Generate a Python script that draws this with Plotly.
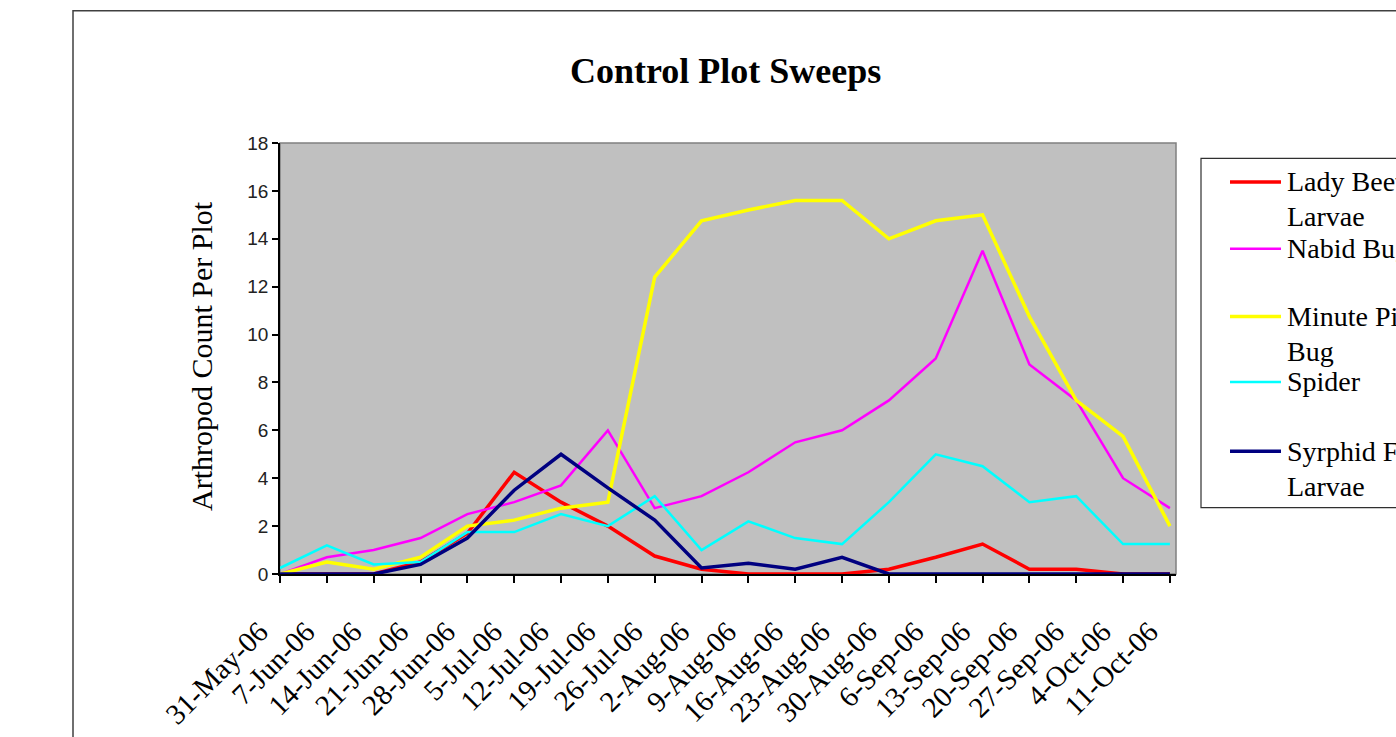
import plotly.graph_objects as go

# Sampling dates (weekly sweeps)
dates = ["31-May-06", "7-Jun-06", "14-Jun-06", "21-Jun-06", "28-Jun-06",
         "5-Jul-06", "12-Jul-06", "19-Jul-06", "26-Jul-06", "2-Aug-06",
         "9-Aug-06", "16-Aug-06", "23-Aug-06", "30-Aug-06", "6-Sep-06",
         "13-Sep-06", "20-Sep-06", "27-Sep-06", "4-Oct-06", "11-Oct-06"]

# Mean arthropod counts per plot
lady_beetle_larvae = [0, 0, 0, 0.5, 1.7, 4.25, 3.0, 2.0, 0.75, 0.2,
                      0, 0, 0, 0.2, 0.7, 1.25, 0.2, 0.2, 0, 0]
nabid_bugs = [0, 0.7, 1.0, 1.5, 2.5, 3.0, 3.7, 6.0, 2.75, 3.25,
              4.25, 5.5, 6.0, 7.25, 9.0, 13.5, 8.75, 7.25, 4.0, 2.75]
minute_pirate_bug = [0, 0.5, 0.2, 0.7, 2.0, 2.25, 2.75, 3.0, 12.4, 14.75,
                     15.2, 15.6, 15.6, 14.0, 14.75, 15.0, 10.75, 7.25, 5.75, 2.0]
spider = [0.25, 1.2, 0.4, 0.5, 1.75, 1.75, 2.5, 2.0, 3.25, 1.0,
          2.2, 1.5, 1.25, 3.0, 5.0, 4.5, 3.0, 3.25, 1.25, 1.25]
syrphid_fly_larvae = [0, 0, 0, 0.4, 1.5, 3.5, 5.0, 3.6, 2.25, 0.25,
                      0.45, 0.2, 0.7, 0, 0, 0, 0, 0, 0, 0]

y_ticks = list(range(0, 19, 2))

series = [
    ("Lady Beetle Larvae", ["Lady Beetle", "Larvae"], lady_beetle_larvae, "#FF0000", 3.5),
    ("Nabid Bugs", ["Nabid Bugs"], nabid_bugs, "#FF00FF", 2.5),
    ("Minute Pirate Bug", ["Minute Pirate", "Bug"], minute_pirate_bug, "#FFFF00", 3.5),
    ("Spider", ["Spider"], spider, "#00FFFF", 2.5),
    ("Syrphid Fly Larvae", ["Syrphid Fly", "Larvae"], syrphid_fly_larvae, "#000080", 3.5),
]

W, H = 1396, 737
L, R, T, B = 280, 1176, 142.5, 574.5


def px(x):
    return (x - L) / (R - L)


def py(y):
    return (B - y) / (B - T)


fig = go.Figure()
for name, _, vals, color, width in series:
    fig.add_trace(go.Scatter(x=dates, y=vals, mode="lines", name=name,
                             line=dict(color=color, width=width),
                             showlegend=False))

serif = "Liberation Serif, Times New Roman, serif"
sans = "Liberation Sans, Arial, sans-serif"

# rotated date labels sit a little further out along their own direction
pad = "\u00a0" * 4
date_labels = [d + pad for d in dates]

fig.update_layout(
    width=W, height=H,
    margin=dict(l=L, r=W - R, t=T, b=H - B, autoexpand=False),
    paper_bgcolor="white",
    plot_bgcolor="#C0C0C0",
    xaxis=dict(type="category", range=[0, 19.13], showgrid=False,
               showline=True, linecolor="black", linewidth=1.5,
               ticks="outside", ticklen=7, tickcolor="black", tickwidth=1.5,
               tickvals=dates, ticktext=date_labels,
               tickangle=-45,
               tickfont=dict(family=serif, size=29, color="black"),
               zeroline=False),
    yaxis=dict(range=[0, 18], tickvals=y_ticks, showgrid=False,
               showline=True, linecolor="black", linewidth=1.5,
               ticks="outside", ticklen=6, tickcolor="black", tickwidth=1.5,
               tickfont=dict(family=sans, size=19, color="#222222"),
               zeroline=False),
)

shapes = []
# plot area frame (top / right edges)
shapes.append(dict(type="rect", xref="paper", yref="paper", x0=0, x1=1, y0=0, y1=1,
                   line=dict(color="#808080", width=1.5), layer="below"))
# outer chart border
shapes.append(dict(type="rect", xref="paper", yref="paper",
                   x0=px(73), x1=px(1420), y0=py(760), y1=py(10),
                   line=dict(color="#404040", width=1.5), layer="below"))
# legend frame
shapes.append(dict(type="rect", xref="paper", yref="paper",
                   x0=px(1201), x1=px(1420), y0=py(508), y1=py(158),
                   line=dict(color="#303030", width=1.2), fillcolor="white"))

annotations = [
    dict(text="<b>Control Plot Sweeps</b>", xref="paper", yref="paper",
         x=px(725), y=py(70), xanchor="center", yanchor="middle", showarrow=False,
         font=dict(family=serif, size=36, color="black")),
    dict(text="Arthropod Count Per Plot", xref="paper", yref="paper",
         x=px(201), y=py(356), xanchor="center", yanchor="middle", showarrow=False,
         textangle=-90, font=dict(family=serif, size=30, color="black")),
]

legend_rows = [181.5, 248.5, 316.5, 382, 451.5]
line_gap = 35
for (name, lines, _, color, width), yrow in zip(series, legend_rows):
    shapes.append(dict(type="line", xref="paper", yref="paper",
                       x0=px(1230), x1=px(1281), y0=py(yrow), y1=py(yrow),
                       line=dict(color=color, width=width)))
    for k, txt in enumerate(lines):
        annotations.append(dict(text=txt, xref="paper", yref="paper",
                                x=px(1285), y=py(yrow + k * line_gap),
                                xanchor="left", yanchor="middle", showarrow=False,
                                font=dict(family=serif, size=28, color="black")))

fig.update_layout(shapes=shapes, annotations=annotations)
fig.write_html("out.html")
